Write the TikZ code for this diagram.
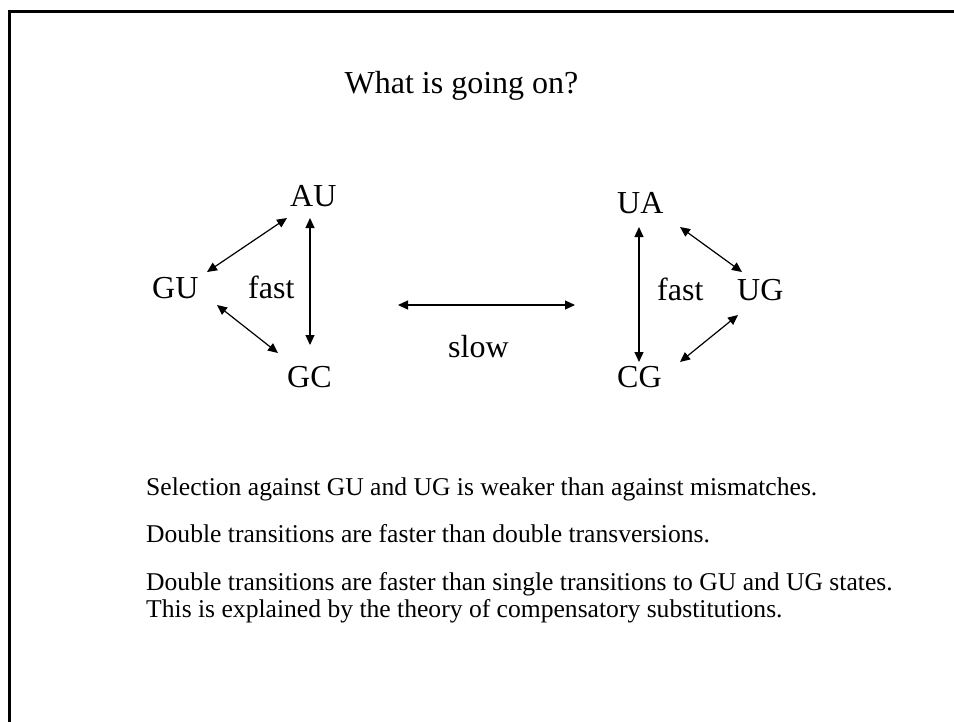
\documentclass[tikz,border=0pt]{standalone}
\usepackage{fontspec}
\setmainfont{Liberation Serif}
\usetikzlibrary{arrows.meta}
\begin{document}
\begin{tikzpicture}[x=1pt,y=-1pt,
  lbl/.style={anchor=base west,inner sep=0pt,font=\fontsize{32}{38}\selectfont},
  body/.style={anchor=base west,inner sep=0pt,font=\fontsize{25.6}{30}\selectfont},
  arr/.style={line width=1.2pt,{Triangle[length=10pt,width=9pt]}-{Triangle[length=10pt,width=9pt]}},
  frame/.style={line width=3pt}]
\useasboundingbox (0,0) rectangle (954,721);
\draw[frame] (9,730) -- (9,11) -- (960,11);
\node[anchor=base,inner sep=0pt,font=\fontsize{32}{38}\selectfont] (title) at (461.5,93) {What is going on?};
% left triangle
\node[lbl] (AU) at (290,206) {AU};
\node[lbl] (GU) at (152,298) {GU};
\node[lbl] (fastL) at (248,298) {fast};
\node[lbl] (GC) at (287,387) {GC};
% right triangle
\node[lbl] (UA) at (617,213) {UA};
\node[lbl] (UG) at (737,300) {UG};
\node[lbl] (fastR) at (657,300) {fast};
\node[lbl] (CG) at (617,387) {CG};
\node[lbl] (slow) at (448,357) {slow};
% arrow ends
\coordinate (a1) at (310,218); \coordinate (a2) at (310,345);
\coordinate (b1) at (207,272); \coordinate (b2) at (287,218);
\coordinate (c1) at (217,305); \coordinate (c2) at (278,353);
\coordinate (d1) at (639,227); \coordinate (d2) at (639,362);
\coordinate (e1) at (680,227); \coordinate (e2) at (742,272);
\coordinate (f1) at (738,315); \coordinate (f2) at (680,362);
\coordinate (s1) at (398,305); \coordinate (s2) at (575,305);
\draw[arr] (a1) -- (a2);
\draw[arr] (b1) -- (b2);
\draw[arr] (c1) -- (c2);
\draw[arr] (d1) -- (d2);
\draw[arr] (e1) -- (e2);
\draw[arr] (f1) -- (f2);
\draw[arr] (s1) -- (s2);
% body text
\node[body] (t1) at (146,495) {Selection against GU and UG is weaker than against mismatches.};
\node[body] (t2) at (146,542) {Double transitions are faster than double transversions.};
\node[body] (t3) at (146,590) {Double transitions are faster than single transitions to GU and UG states.};
\node[body] (t4) at (146,617) {This is explained by the theory of compensatory substitutions.};
\end{tikzpicture}
\end{document}
